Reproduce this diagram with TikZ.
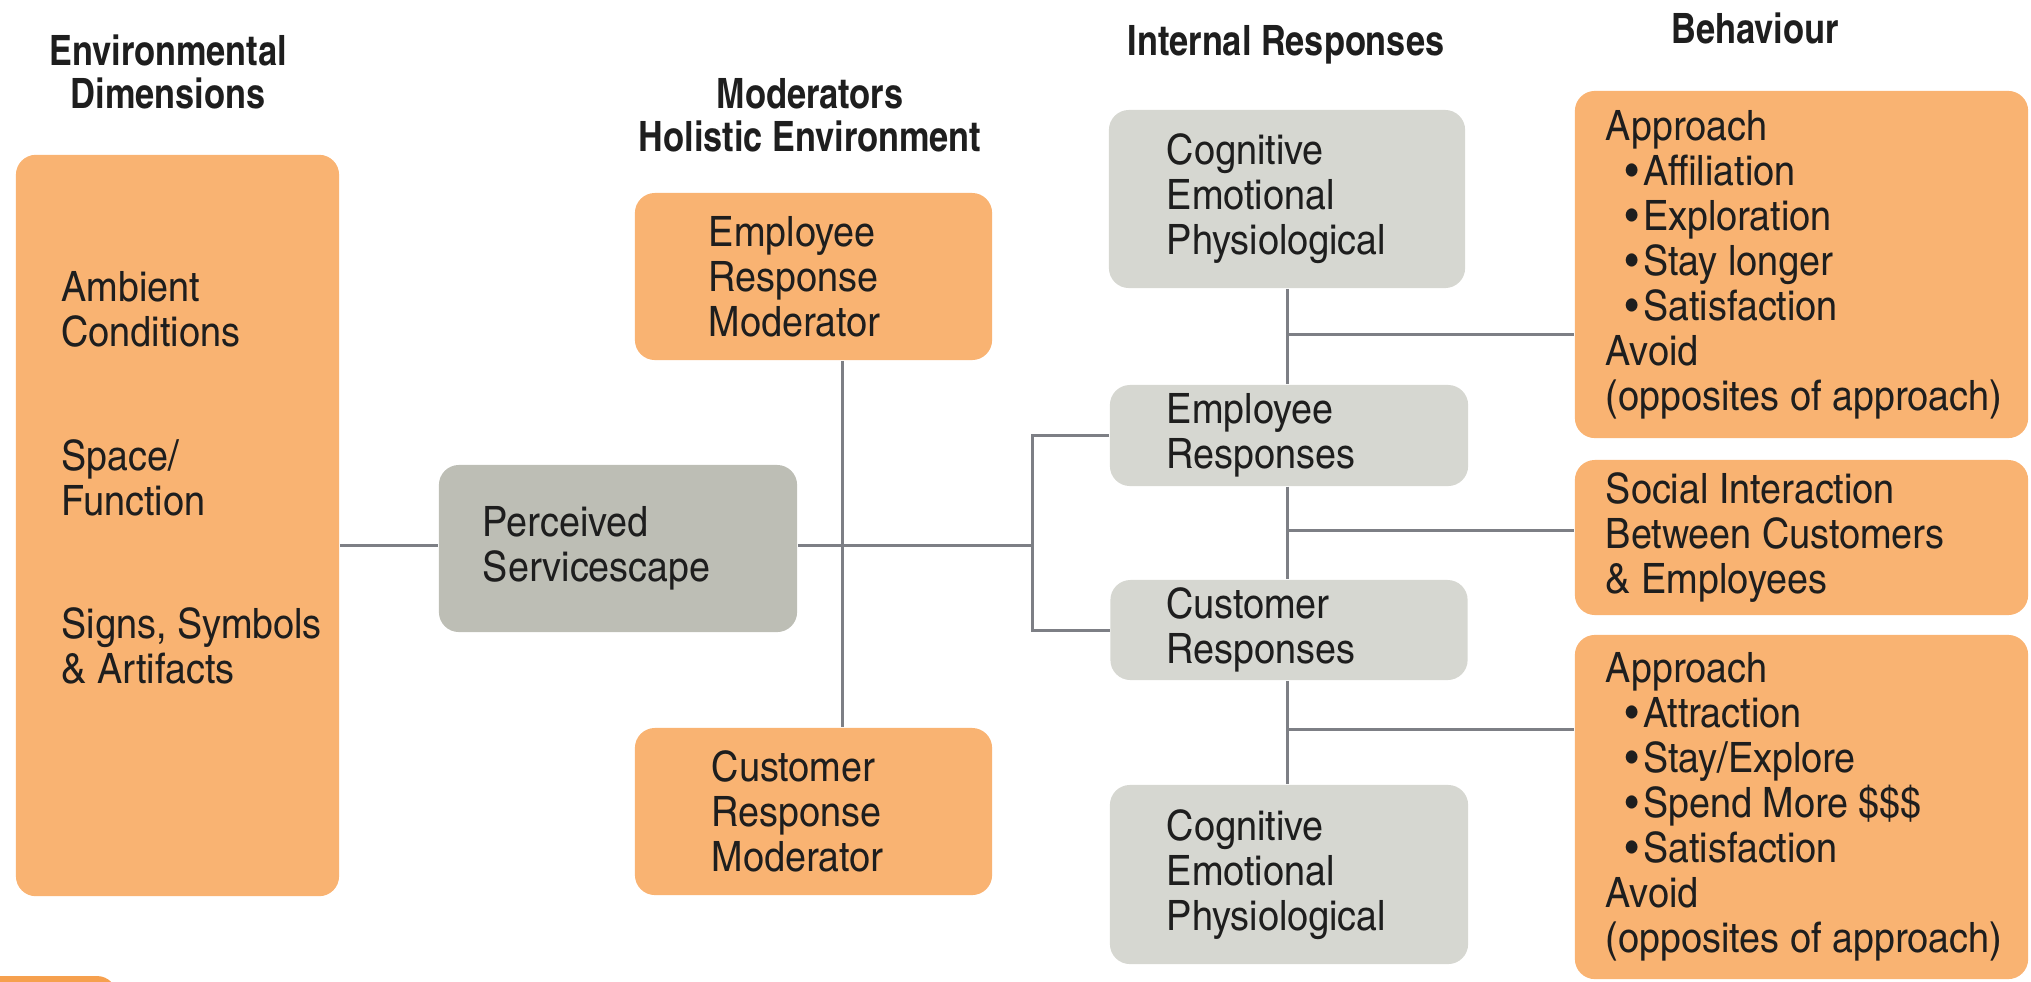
\documentclass[tikz,border=0pt]{standalone}
\usepackage{fontspec}
\setmainfont{texgyreheroscn}[Extension=.otf,UprightFont=*-regular,BoldFont=*-bold,
  UprightFeatures={FakeStretch=1.1}]
\usepackage{tikz}
\usetikzlibrary{positioning}

\definecolor{boxorange}{RGB}{249,179,114}
\definecolor{deeporange}{RGB}{246,160,78}
\definecolor{lightgrey}{RGB}{214,215,209}
\definecolor{midgrey}{RGB}{189,190,181}
\definecolor{linegrey}{RGB}{125,127,133}
\definecolor{textblack}{RGB}{30,30,30}

\tikzset{
  box/.style={rounded corners=0.2cm, inner sep=0},
  obox/.style={box, fill=boxorange},
  gbox/.style={box, fill=lightgrey},
  pbox/.style={box, fill=midgrey},
  lbl/.style={inner sep=0, align=left, anchor=west, text=textblack,
    font=\fontsize{11.9}{12.8}\selectfont},
  heading/.style={inner sep=0, align=center, text=textblack,
    font=\fontsize{11.9}{12.3}\selectfont\bfseries},
  link/.style={draw=linegrey, line width=0.03cm}
}

\newcommand{\bul}{\hspace*{0.2cm}\textbullet\hspace{0.04cm}}

\begin{document}
\begin{tikzpicture}[x=0.01cm,y=-0.01cm]
\useasboundingbox (0,0) rectangle (2031,981);

\node[heading] (envhead) at (168,72) {Environmental\\Dimensions};
\node[heading] (modhead) at (810,115) {Moderators\\Holistic Environment};
\node[heading] (inthead) at (1286,45) {Internal Responses};
\node[heading] (behhead) at (1755,28) {Behaviour};

\node[obox, minimum width=3.23cm, minimum height=7.41cm] (envdim) at (177.5,525.5) {};
\node[lbl] (ambient) at (61,309) {Ambient\\Conditions};
\node[lbl] (space) at (61,477.5) {Space/\\Function};
\node[lbl] (signs) at (61,645.5) {Signs, Symbols\\\& Artifacts};

\node[pbox, minimum width=3.58cm, minimum height=1.67cm] (perceived) at (618,548.5) {};
\node[lbl, right=0.44cm of perceived.west] (perceivedtxt) {Perceived\\Servicescape};

\node[obox, minimum width=3.57cm, minimum height=1.67cm] (empmod) at (813.5,276.5) {};
\node[lbl, right=0.74cm of empmod.west] (empmodtxt) {Employee\\Response\\Moderator};
\node[obox, minimum width=3.57cm, minimum height=1.67cm] (custmod) at (813.5,811.5) {};
\node[lbl, right=0.77cm of custmod.west] (custmodtxt) {Customer\\Response\\Moderator};

\node[gbox, minimum width=3.56cm, minimum height=1.78cm] (cogtop) at (1287,199) {};
\node[lbl, right=0.58cm of cogtop.west] (cogtoptxt) {Cognitive\\Emotional\\Physiological};
\node[gbox, minimum width=3.58cm, minimum height=1.01cm] (empresp) at (1289,435.5) {};
\node[lbl, right=0.57cm of empresp.west] (emprespprtxt) {Employee\\Responses};
\node[gbox, minimum width=3.57cm, minimum height=1.00cm] (custresp) at (1289,630) {};
\node[lbl, right=0.56cm of custresp.west] (custresptxt) {Customer\\Responses};
\node[gbox, minimum width=3.58cm, minimum height=1.79cm] (cogbot) at (1289,874.5) {};
\node[lbl, right=0.57cm of cogbot.west] (cogbottxt) {Cognitive\\Emotional\\Physiological};

\node[obox, minimum width=4.53cm, minimum height=3.47cm] (behA) at (1801.5,264.5) {};
\node[lbl, right=0.31cm of behA.west] (behAtxt) {Approach\\\bul Affiliation\\\bul Exploration\\\bul Stay longer\\\bul Satisfaction\\Avoid\\(opposites of approach)};
\node[obox, minimum width=4.53cm, minimum height=1.55cm] (behB) at (1801.5,537.5) {};
\node[lbl, right=0.31cm of behB.west] (behBtxt) {Social Interaction\\Between Customers\\\& Employees};
\node[obox, minimum width=4.53cm, minimum height=3.44cm] (behC) at (1801.5,807) {};
\node[lbl, right=0.31cm of behC.west] (behCtxt) {Approach\\\bul Attraction\\\bul Stay/Explore\\\bul Spend More \$\$\$\\\bul Satisfaction\\Avoid\\(opposites of approach)};

\begin{scope}
\clip (0,0) rectangle (2031,981);
\fill[deeporange, rounded corners=0.2cm] (-40,976) rectangle (117,1060);
\end{scope}

\coordinate (hub) at (842,545);
\coordinate (split) at (1032,545);
\draw[link] (envdim.east |- hub) -- (perceived.west |- hub);
\draw[link] (perceived.east |- hub) -- (split);
\draw[link] (empmod.south -| hub) -- (custmod.north -| hub);
\draw[link] (empresp.west) -| (split) |- (custresp.west);

\draw[link] (cogtop.south) -- (cogtop.south |- empresp.north);
\draw[link] (cogtop.south |- empresp.south) -- (cogtop.south |- custresp.north);
\draw[link] (cogtop.south |- custresp.south) -- (cogtop.south |- cogbot.north);
\coordinate (jA) at (1287,334);
\coordinate (jB) at (1287,530);
\coordinate (jC) at (1287,729);
\draw[link] (jA) -- (jA -| behA.west);
\draw[link] (jB) -- (jB -| behB.west);
\draw[link] (jC) -- (jC -| behC.west);
\end{tikzpicture}
\end{document}
